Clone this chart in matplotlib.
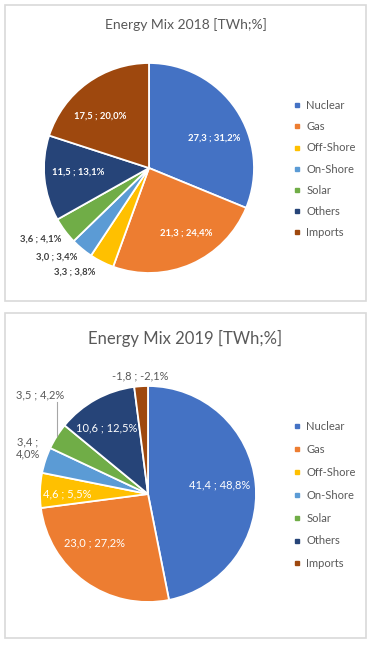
import matplotlib.pyplot as plt
import numpy as np
from matplotlib.patches import Rectangle
from matplotlib.lines import Line2D

plt.rcParams['font.family'] = ['Lato', 'DejaVu Sans']

sources = ["Nuclear", "Gas", "Off-Shore", "On-Shore", "Solar", "Others", "Imports"]
colors = ["#4472C4", "#ED7D31", "#FFC000", "#5B9BD5", "#70AD47", "#264478", "#9E480E"]

twh_2018 = [27.3, 21.3, 3.3, 3.0, 3.6, 11.5, 17.5]
pct_2018 = [31.2, 24.4, 3.8, 3.4, 4.1, 13.1, 20.0]

twh_2019 = [41.4, 23.0, 4.6, 3.4, 3.5, 10.6, -1.8]
pct_2019 = [48.8, 27.2, 5.5, 4.0, 4.2, 12.5, -2.1]

W, H = 373, 648


def fig_box(left, top, width, height):
    # pixel box (from top-left) -> figure fraction rect
    return [left / W, 1 - (top + height) / H, width / W, height / H]


def fmt(v):
    return f"{v:.1f}".replace(".", ",")


def draw_panel(fig, box, pie_box, title, title_y, title_size, twh, pct,
               label_place, label_style, legend_top, legend_gap, legend_size):
    fig.add_artist(Rectangle((box[0] / W, 1 - (box[1] + box[3]) / H), box[2] / W, box[3] / H,
                             transform=fig.transFigure, fill=False,
                             edgecolor="#D9D9D9", linewidth=1.2))
    fig.text((box[0] + box[2] / 2) / W, 1 - title_y / H, title, ha="center", va="center",
             fontsize=title_size, color="#595959")

    ax = fig.add_axes(fig_box(*pie_box))
    wedges, _ = ax.pie(np.abs(twh), colors=colors, startangle=90, counterclock=False,
                       radius=1.0, wedgeprops=dict(edgecolor="white", linewidth=1.3))
    ax.set_xlim(-1, 1)
    ax.set_ylim(-1, 1)
    ax.axis("off")

    for w, v, p, (dist, shift, text_color, extra) in zip(wedges, twh, pct, label_place):
        mid = np.deg2rad((w.theta1 + w.theta2) / 2 + shift)
        x, y = dist * np.cos(mid), dist * np.sin(mid)
        txt = f"{fmt(v)} ; {fmt(p)}%"
        if extra == "wrap":
            txt = txt.replace(" ; ", " ;\n", 1)
        ax.text(x, y, txt, ha="center", va="center", color=text_color,
                clip_on=False, **label_style)
        if extra == "line":
            # leader line from the label down to the wedge's outer edge
            edge = np.deg2rad((w.theta1 + w.theta2) / 2)
            ex, ey = np.cos(edge), np.sin(edge)
            ax.plot([ex, ex], [y - 0.07, ey], color="#A6A6A6", linewidth=0.8, clip_on=False)

    handles = [Line2D([], [], marker="s", linestyle="", markersize=3.2, color=c) for c in colors]
    fig.legend(handles, sources, loc="upper left",
               bbox_to_anchor=(294 / W, 1 - legend_top / H), frameon=False,
               fontsize=legend_size, labelcolor="#595959", handlelength=0.6,
               handletextpad=0.5, labelspacing=legend_gap, borderpad=0, borderaxespad=0)


fig = plt.figure(figsize=(W / 100, H / 100), dpi=100)

dark = "#404040"
place_2018 = [
    (0.68, -9, "white", None),
    (0.72, 6, "white", None),
    (1.22, -8.5, dark, None),
    (1.22, -6.2, dark, None),
    (1.23, -3.5, dark, None),
    (0.68, -2, "white", None),
    (0.68, 7, "white", None),
]
draw_panel(fig, (5, 5, 361, 296), (44, 63, 210, 210), "Energy Mix 2018 [TWh;%]", 25, 10,
           twh_2018, pct_2018, place_2018, dict(fontsize=6.8, fontweight="bold"),
           100, 0.92, 8)

grey = "#595959"
place_2019 = [
    (0.67, 2, "white", None),
    (0.67, -11.5, "white", None),
    (0.75, 2, "white", None),
    (1.19, -2.8, grey, "wrap"),
    (1.36, -10.2, grey, "line"),
    (0.72, 3, "white", None),
    (1.10, 0, grey, None),
]
draw_panel(fig, (5, 313, 361, 325), (40, 386, 216, 216), "Energy Mix 2019 [TWh;%]", 338, 12,
           twh_2019, pct_2019, place_2019, dict(fontsize=8),
           421, 1.07, 8)

fig.savefig("out.png", dpi=100)
